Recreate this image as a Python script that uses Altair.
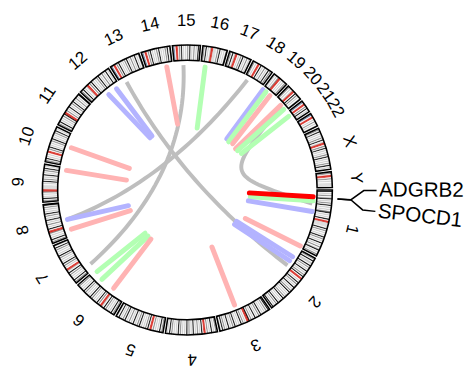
import math
import altair as alt
import pandas as pd
import numpy as np

# ---------------- data ----------------
chroms = ["1", "2", "3", "4", "5", "6", "7", "8", "9", "10", "11", "12",
          "13", "14", "15", "16", "17", "18", "19", "20", "21", "22", "X", "Y"]
chrom_mb = [248.96, 242.19, 198.30, 190.21, 181.54, 170.81, 159.35, 145.14,
            138.39, 133.80, 135.09, 133.28, 114.36, 107.04, 101.99, 90.34,
            83.26, 80.37, 58.62, 64.44, 46.71, 50.82, 156.04, 57.23]
# cytoband stains along each chromosome (w gneg, l gpos25, m gpos50, d gpos75,
# k gpos100, r acen, v gvar, s stalk), equal-width bands
band_codes = [
    "wkwlwdwmkwlwdwkwmwlwdkwmwlwkwrrvvvvwkwdwmwlwkwdwmwkwlwdwmkwlwdw",
    "wdwkwlmwkwdwlwkwmwdwkwrrwlwkwdwmwkwlwdwkwmwlwdwkwmwlwkwdwmwkw",
    "wkwdwlwmwkwdwlwkwmwdwkrrwlwdwkwmwlwkwdwmwkwlwdwkwm",
    "wdwlwkwmwdwrrwkwlwdwmwkwlwdwkwmwlwdwkwlwmwdwkwlw",
    "wdwkwlwmwdwrrwkwdwlwmwkwdwlwkwmwdwlwkwdwmwkwl",
    "wdwkwlwmwdwkwlrrwdwkwmwlwdwkwmwlwdwkwlwmwdw",
    "wdwkwmwlwdwkwmrrwlwdwkwmwlwdwkwmwlwdwkwm",
    "wdwkwlwmwdrrwkwlwdwmwkwlwdwkwmwlwdwk",
    "wdwkwlwmwdrrvvvvwmwkwdwlwkwmwdwkwlw",
    "wdwkwmwlwrrwdwkwmwlwdwkwmwlwdwkwmw",
    "wdwkwlwmwdwkrrwdwlwkwmwdwkwlwdwmwk",
    "wdwkwlwmrrwdwkwlwmwdwkwlwdwmwkwlw",
    "wswrrwdwkwlwmwdwkwlwdwmwkwlwd",
    "wswrrwdwkwmwlwdwkwmwlwdwkwm",
    "wswrrwdwkwlwmwdwkwlwdwmwkw",
    "wdwkwlwmrrvvvwdwkwlwmwd",
    "wdwkwlrrwmwdwkwlwdwmw",
    "wdwlwrrwkwmwdwlwkwdw",
    "wlwmwdrrwlwmwdw",
    "wdwlwmrrwkwdwlwm",
    "wswrrwdwkwlw",
    "wswrrwlwdwmwl",
    "wdwkwlwmwdwkwmrrwdwkwlwmwdwkwlwmwdwkwlw",
    "wdwrrwdwlwvvvv",
]

gene_names = ["ADGRB2", "SPOCD1"]
gene_chrom = ["1", "1"]
gene_mb = [32.0, 31.7]
gene_label_deg = [0.2, 6.5]

# straight bars: outer end (angle deg, radius) -> inner end (angle deg, radius)
seg_a1 = [260.5, 278.2, 230.5, 235.0, 200.0, 189.2, 166.2, 161.3, 137.9, 133.7,
          126.9, 67.7, 32.4, 34.7, 26.4, 4.9, 9.8, 307.0, 308.7, 311.2, 317.8,
          320.1, 324.0, 3.1]
seg_r1 = [126.8, 126.3, 125.7, 125.7, 125.6, 124.6, 125.6, 124.6, 123.9, 125.9,
          125.0, 126.5, 126.8, 126.5, 128.3, 128.5, 128.9, 127.8, 128.0, 127.6,
          128.1, 127.8, 127.4, 128.2]
seg_a2 = [261.5, 279.0, 234.4, 236.8, 200.4, 189.2, 165.1, 160.1, 134.3, 130.4,
          126.5, 66.7, 32.6, 36.1, 26.2, 6.2, 10.1, 307.6, 310.6, 314.4, 319.4,
          321.9, 326.0, 2.7]
seg_r2 = [67.7, 63.8, 65.2, 65.7, 63.0, 62.8, 62.1, 61.7, 61.5, 61.7,
          62.2, 63.2, 59.4, 59.4, 65.7, 64.4, 63.0, 65.6, 64.5, 65.8,
          64.5, 64.8, 66.3, 63.1]
seg_kind = ["pink", "green", "blue", "blue", "pink", "pink", "blue", "pink",
            "green", "green", "pink", "pink", "blue", "blue", "pink", "green",
            "blue", "blue", "green", "pink", "pink", "green", "green", "red"]

# gray curved links: ends (angle, radius) and two control points (angle, radius)
link_a1 = [268.2, 240.6, 298.6, 318.2]
link_r1 = [127.0, 126.0, 127.4, 127.5]
link_a2 = [142.6, 37.0, 166.2, 6.3]
link_r2 = [124.0, 127.5, 125.6, 127.8]
link_c1a = [269.2, 239.3, 279.6, 342.0]
link_c1r = [51.7, 45.7, 43.9, 38.9]
link_c2a = [153.9, 36.3, 175.7, 336.6]
link_c2r = [35.6, 38.8, 53.8, 40.3]

# ---------------- styles / layout ----------------
FONT = "Liberation Sans"
W, H = 467, 358
CX, CY = 182.5, 182.0
R_OUT, R_IN = 147.5, 132.0
R_LAB = 172.0
GAP_DEG = 1.0
STAIN = {"w": "#FFFFFF", "l": "#C8C8C8", "m": "#C8C8C8", "d": "#828282",
         "k": "#000000", "r": "#D92F27", "v": "#DCDCDC", "s": "#647FA4"}
KIND = {"pink": "#FFB3B3", "green": "#B3FFB3", "blue": "#B3B3FF", "red": "#FF0000"}

S = float(sum(chrom_mb))
gap_mb = S / (360.0 - GAP_DEG * len(chroms)) * GAP_DEG
T = S + gap_mb * len(chroms)
sizes = np.array(chrom_mb)
offsets = np.concatenate([[0.0], np.cumsum(sizes + gap_mb)[:-1]])
chrom_df = pd.DataFrame({"chrom": chroms, "g0": offsets, "g1": offsets + sizes})

rows = []
for c, size, off, code in zip(chroms, chrom_mb, offsets, band_codes):
    n = len(code)
    for i, ch in enumerate(code):
        rows.append({"chrom": c, "g0": off + size * i / n,
                     "g1": off + size * (i + 1) / n, "stain": ch})
band_df = pd.DataFrame(rows)

XS = alt.Scale(domain=[-CX, W - CX], nice=False, zero=False)
YS = alt.Scale(domain=[-CY, H - CY], reverse=True, nice=False, zero=False)
theta_sc = alt.Scale(domain=[0, T], range=[math.pi / 2, math.pi / 2 + 2 * math.pi])
stain_sc = alt.Scale(domain=list(STAIN.keys()), range=list(STAIN.values()))

bands = alt.Chart(band_df).mark_arc(radius=R_OUT, radius2=R_IN, strokeWidth=0.4).encode(
    theta=alt.Theta("g0:Q", scale=theta_sc, stack=None),
    theta2="g1:Q",
    x=alt.value(CX), y=alt.value(CY),
    fill=alt.Fill("stain:N", scale=stain_sc, legend=None),
    stroke=alt.Stroke("stain:N", scale=stain_sc, legend=None),
)

outline = alt.Chart(chrom_df).mark_arc(
    radius=R_OUT, radius2=R_IN, fillOpacity=0, stroke="black", strokeWidth=1.6
).encode(
    theta=alt.Theta("g0:Q", scale=theta_sc, stack=None),
    theta2="g1:Q",
    x=alt.value(CX), y=alt.value(CY),
)

chr_labels = alt.Chart(chrom_df).transform_calculate(
    deg=f"(datum.g0 + datum.g1) / 2 / {T} * 360"
).transform_calculate(
    x=f"{R_LAB} * cos(datum.deg * PI / 180)",
    y=f"{R_LAB} * sin(datum.deg * PI / 180)",
    rot="(datum.deg + 90) % 360",
).mark_text(font=FONT, fontSize=17, color="black", baseline="middle", align="center").encode(
    x=alt.X("x:Q", scale=XS, axis=None),
    y=alt.Y("y:Q", scale=YS, axis=None),
    text="chrom:N",
    angle=alt.Angle("rot:Q", scale=None),
)

# gray bezier links
link_df = pd.DataFrame({"id": range(len(link_a1)), "a1": link_a1, "r1": link_r1,
                        "a2": link_a2, "r2": link_r2, "c1a": link_c1a, "c1r": link_c1r,
                        "c2a": link_c2a, "c2r": link_c2r})
link_pts = link_df.merge(pd.DataFrame({"t": np.linspace(0, 1, 41)}), how="cross")


def cx(r, a):
    return f"datum.{r} * cos(datum.{a} * PI / 180)"


def cy(r, a):
    return f"datum.{r} * sin(datum.{a} * PI / 180)"


glinks = alt.Chart(link_pts).transform_calculate(
    p0x=cx("r1", "a1"), p0y=cy("r1", "a1"),
    p1x=cx("c1r", "c1a"), p1y=cy("c1r", "c1a"),
    p2x=cx("c2r", "c2a"), p2y=cy("c2r", "c2a"),
    p3x=cx("r2", "a2"), p3y=cy("r2", "a2"),
).transform_calculate(
    x="pow(1-datum.t,3)*datum.p0x + 3*pow(1-datum.t,2)*datum.t*datum.p1x + 3*(1-datum.t)*pow(datum.t,2)*datum.p2x + pow(datum.t,3)*datum.p3x",
    y="pow(1-datum.t,3)*datum.p0y + 3*pow(1-datum.t,2)*datum.t*datum.p1y + 3*(1-datum.t)*pow(datum.t,2)*datum.p2y + pow(datum.t,3)*datum.p3y",
).mark_line(color="#BEBEBE", strokeWidth=4).encode(
    x=alt.X("x:Q", scale=XS, axis=None),
    y=alt.Y("y:Q", scale=YS, axis=None),
    detail="id:N",
    order="t:Q",
)

seg_df = pd.DataFrame({"a1": seg_a1, "r1": seg_r1, "a2": seg_a2, "r2": seg_r2, "kind": seg_kind})
segs = alt.Chart(seg_df).transform_calculate(
    x=cx("r1", "a1"), y=cy("r1", "a1"), x2=cx("r2", "a2"), y2=cy("r2", "a2"),
).mark_rule(strokeWidth=5, strokeCap="round").encode(
    x=alt.X("x:Q", scale=XS, axis=None),
    y=alt.Y("y:Q", scale=YS, axis=None),
    x2="x2:Q", y2="y2:Q",
    color=alt.Color("kind:N", scale=alt.Scale(domain=list(KIND.keys()), range=list(KIND.values())), legend=None),
)

# gene label connectors
conn_rows = []
lab_rows = []
for g, c, mb, ld in zip(gene_names, gene_chrom, gene_mb, gene_label_deg):
    gdeg = (offsets[chroms.index(c)] + mb) / T * 360
    for k, (r, a) in enumerate([(153, gdeg), (166.5, gdeg), (179.5, ld), (192.5, ld)]):
        conn_rows.append({"gene": g, "k": k, "r": r, "a": a})
    lab_rows.append({"gene": g, "r": 195.0, "a": ld})
conn_df = pd.DataFrame(conn_rows)
lab_df = pd.DataFrame(lab_rows)

conn = alt.Chart(conn_df).transform_calculate(
    x=cx("r", "a"), y=cy("r", "a")
).mark_line(color="black", strokeWidth=1.5).encode(
    x=alt.X("x:Q", scale=XS, axis=None),
    y=alt.Y("y:Q", scale=YS, axis=None),
    detail="gene:N", order="k:Q",
)

gene_txt = alt.Chart(lab_df).transform_calculate(
    x=cx("r", "a"), y=cy("r", "a"), rot="datum.a"
).mark_text(font=FONT, fontSize=21, align="left", baseline="middle", color="black").encode(
    x=alt.X("x:Q", scale=XS, axis=None),
    y=alt.Y("y:Q", scale=YS, axis=None),
    text="gene:N",
    angle=alt.Angle("rot:Q", scale=None),
)

chart = alt.layer(bands, outline, glinks, segs, chr_labels, conn, gene_txt).properties(
    width=W, height=H, autosize=alt.AutoSizeParams(type="none"), padding=0
).configure_view(stroke=None)

chart.save("out.html", embed_options={"renderer": "svg", "actions": False})
